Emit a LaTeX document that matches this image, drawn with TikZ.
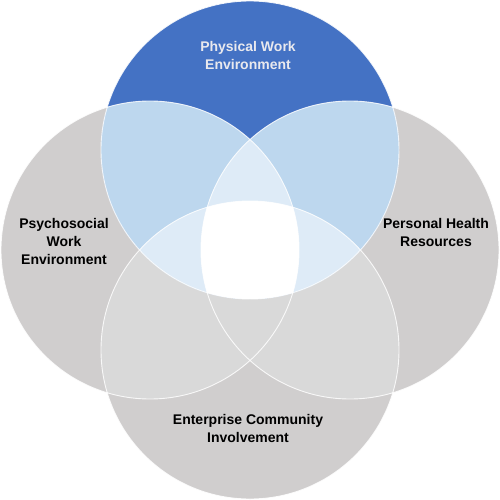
\documentclass[tikz,border=0pt]{standalone}
\usepackage{fontspec}
\setmainfont{Liberation Sans}
\definecolor{topblue}{HTML}{4472C4}
\definecolor{grayA}{HTML}{D0CECE}
\definecolor{grayB}{HTML}{D9D9D9}
\definecolor{lblueA}{HTML}{BDD7EE}
\definecolor{lblueB}{HTML}{DEEBF7}
\definecolor{toptext}{HTML}{E9E9EE}
\tikzset{
  lbl/.style={font=\bfseries\fontsize{14}{18}\selectfont, align=center, text=black, inner sep=0pt},
  ring/.style={draw=white, line width=0.9pt, draw opacity=0.85},
}
\begin{document}
\begin{tikzpicture}[x=1pt,y=-1pt]
\useasboundingbox (0,0) rectangle (500,500);
% gray circles
\fill[grayA] (150,250) circle[radius=149pt] (350,250) circle[radius=149pt] (250,350) circle[radius=149pt];
\begin{scope}
  \clip (250,350) circle[radius=149pt];
  \fill[grayB] (150,250) circle[radius=149pt] (350,250) circle[radius=149pt];
\end{scope}
% top circle
\fill[topblue] (250,150) circle[radius=149pt];
\begin{scope}
  \clip (250,150) circle[radius=149pt];
  \fill[lblueA] (150,250) circle[radius=149pt] (350,250) circle[radius=149pt];
  \begin{scope}
    \clip (150,250) circle[radius=149pt];
    \fill[lblueB] (350,250) circle[radius=149pt];
  \end{scope}
  \begin{scope}
    \clip (250,350) circle[radius=149pt];
    \fill[lblueB] (0,0) rectangle (500,500);
    \clip (150,250) circle[radius=149pt];
    \fill[white] (350,250) circle[radius=149pt];
  \end{scope}
\end{scope}
% outlines
\draw[ring] (250,150) circle[radius=149pt];
\draw[ring] (150,250) circle[radius=149pt];
\draw[ring] (350,250) circle[radius=149pt];
\draw[ring] (250,350) circle[radius=149pt];
% labels
\node[lbl, text=toptext] (phys) at (248,55) {Physical Work\\Environment};
\node[lbl] (psych) at (64,241) {Psychosocial\\Work\\Environment};
\node[lbl] (pers) at (436,232) {Personal Health\\Resources};
\node[lbl] (ent) at (248,428) {Enterprise Community\\Involvement};
\end{tikzpicture}
\end{document}
